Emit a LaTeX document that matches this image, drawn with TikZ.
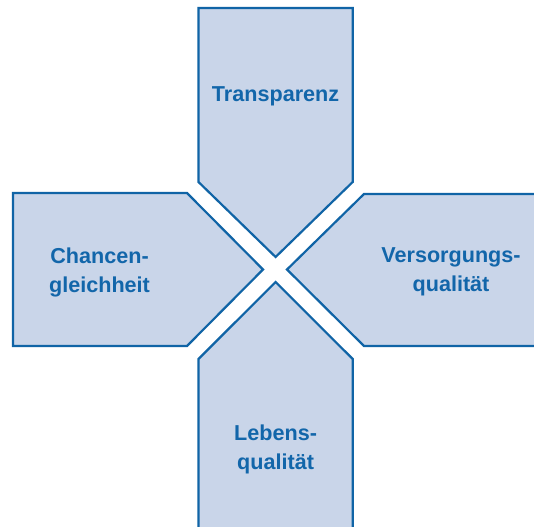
\documentclass[tikz,border=0pt]{standalone}
\usepackage{fontspec}
\setmainfont{Liberation Sans}
\definecolor{boxfill}{RGB}{201,213,233}
\definecolor{boxline}{RGB}{16,100,166}
\definecolor{boxtext}{RGB}{18,102,170}
\begin{document}
\begin{tikzpicture}[x=1pt,y=-1pt,
  arrowbox/.style={fill=boxfill,draw=boxline,line width=2.2pt,line join=miter},
  label/.style={text=boxtext,font=\fontsize{21.6}{29}\selectfont\bfseries,align=center,inner sep=0pt}]
\useasboundingbox (0,0) rectangle (534,526);
\clip (0,0) rectangle (534,526);
\fill[white] (0,0) rectangle (534,526);
% top
\draw[arrowbox] (198.5,8) -- (352.7,8) -- (352.7,182) -- (275.6,257) -- (198.5,182) -- cycle;
% left
\draw[arrowbox] (13,193) -- (187,193) -- (263,269.5) -- (187,346) -- (13,346) -- cycle;
% right
\draw[arrowbox] (545,194) -- (364,194) -- (287,269.5) -- (364,346) -- (545,346) -- cycle;
% bottom
\draw[arrowbox] (198.5,545) -- (198.5,359) -- (275.6,282) -- (352.7,359) -- (352.7,545) -- cycle;
\node[label] (t) at (275.6,96) {Transparenz};
\node[label] (l) at (99.5,272) {Chancen-\\gleichheit};
\node[label] (r) at (451,272) {Versorgungs-\\qualität};
\node[label] (b) at (275.6,449) {Lebens-\\qualität};
\end{tikzpicture}
\end{document}
